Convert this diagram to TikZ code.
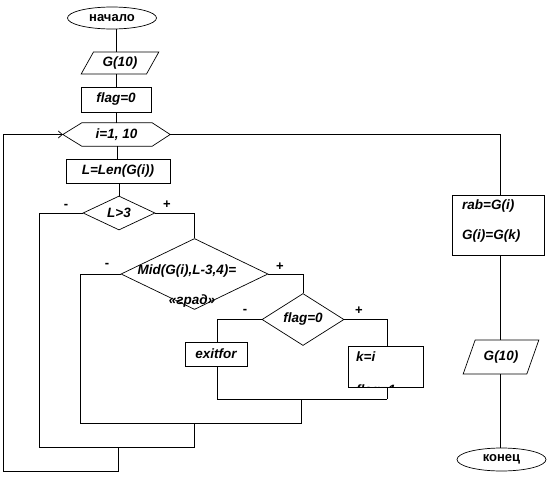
\documentclass[tikz,border=0pt]{standalone}
\usepackage{fontspec}
\setmainfont{Liberation Sans}
\usetikzlibrary{shapes.geometric,calc,arrows.meta}
\begin{document}
\begin{tikzpicture}[x=1pt,y=-1pt,
  every node/.style={font=\fontsize{13.5}{15}\selectfont\bfseries\itshape, inner sep=0pt},
  box/.style={draw, rectangle, line width=0.7pt},
  term/.style={draw, ellipse, line width=0.7pt, font=\fontsize{13}{15}\selectfont\bfseries},
  io/.style={draw, trapezium, trapezium left angle=57.5, trapezium right angle=122.5, trapezium stretches=true, line width=0.7pt},
  cond/.style={draw, diamond, line width=0.7pt},
  sign/.style={font=\fontsize{13}{15}\selectfont\bfseries},
  ln/.style={line width=0.7pt}]
\useasboundingbox (0,0) rectangle (547,482);

% left column
\node[term, minimum width=89, minimum height=22] (start) at (112,18) {начало};
\node[io, minimum width=78, minimum height=22] (in1) at (120,63) {G(10)};
\node[box, minimum width=70, minimum height=25] (flag0) at (116,99.5) {flag=0};
\node[minimum width=107, minimum height=23] (loop) at (116.5,134.5) {i=1, 10};
\draw[ln] (loop.west) -- ($(loop.north west)+(19,0)$) -- ($(loop.north east)+(-18,0)$) -- (loop.east)
  -- ($(loop.south east)+(-18,0)$) -- ($(loop.south west)+(19,0)$) -- cycle;
\node[box, minimum width=104, minimum height=24] (len) at (118,171) {L=Len(G(i))};
\node[cond, minimum width=72, minimum height=34] (c1) at (119,213) {L>3};
\node[cond, minimum width=147, minimum height=71] (c2) at (194.5,274) {};
\node (c2t) at (187,271) {Mid(G(i),L-3,4)=};
\node (c2b) at (192,301) {«град»};
\node[cond, minimum width=82, minimum height=39] (c3) at (303,319.5) {flag=0};
\node[box, minimum width=62, minimum height=24] (exit) at (216,354) {exitfor};
\node[box, minimum width=75, minimum height=41] (kbox) at (385.5,366.5) {};
\node[anchor=west] (kt) at (356,357) {k=i};
\begin{scope}
\clip (kbox.north west) rectangle (kbox.south east);
\node[anchor=west] (ft) at (356,391.5) {flag=1};
\end{scope}

% sign labels
\node[sign] (m1) at (66,206) {-};
\node[sign] (p1) at (167,205) {+};
\node[sign] (m2) at (107,265) {-};
\node[sign] (p2) at (280,267) {+};
\node[sign] (m3) at (245,311) {-};
\node[sign] (p3) at (359,311) {+};

% right column
\node[box, minimum width=92, minimum height=60] (rab) at (498,225) {};
\node[anchor=west] (rt1) at (462,206) {rab=G(i)};
\node[anchor=west] (rt2) at (462,236) {G(i)=G(k)};
\node[io, minimum width=76, minimum height=34] (out) at (501,357) {G(10)};
\node[term, minimum width=89, minimum height=23] (stop) at (501.5,459.5) {конец};

% junction coordinates
\coordinate (j1) at (387,399);
\coordinate (j1l) at (217,399);
\coordinate (j1m) at (301,399);
\coordinate (j2) at (301,423);
\coordinate (j2l) at (80,423);
\coordinate (j2m) at (194,423);
\coordinate (j3) at (194,447);
\coordinate (j3l) at (39,447);
\coordinate (j3m) at (118,447);
\coordinate (j4) at (118,471);
\coordinate (j4l) at (3,471);
\coordinate (back) at (3,134.5);
\coordinate (rtop) at (500,134.5);

% main flow
\draw[ln] (start.south -| 116,0) -- (116,0 |- in1.north);
\draw[ln] (116,0 |- in1.south) -- (116,0 |- flag0.north);
\draw[ln] (flag0.south) -- (116,0 |- loop.north);
\draw[ln] (117,0 |- loop.south) -- (117,0 |- len.north);
\draw[ln] (119,0 |- len.south) -- (c1.north);

% c1 branches
\draw[ln] (c1.east) -| (c2.north);
\draw[ln] (c1.west) -| (j3l);
% c2 branches
\draw[ln] (c2.east) -| (c3.north);
\draw[ln] (c2.west) -| (j2l);
% c3 branches
\draw[ln] (c3.east) -| (kbox.north -| 387,0);
\draw[ln] (c3.west) -| (exit.north -| 217,0);
\draw[ln] (exit.south -| 217,0) -- (j1l) -- (j1);
\draw[ln] (j1) -- (387,0 |- kbox.south);
% merges
\draw[ln] (j1m) -- (j2) -- (j2l);
\draw[ln] (j2m) -- (j3) -- (j3l);
\draw[ln] (j3m) -- (j4) -- (j4l) -- (back);
\draw[ln, -{Straight Barb[length=4pt,width=7pt]}] (back) -- (loop.west);

% exit branch
\draw[ln] (loop.east) -- (rtop) -- (rtop |- rab.north);
\draw[ln] (rab.south -| 500,0) -- (500,0 |- out.north);
\draw[ln] (500,0 |- out.south) -- (500,0 |- stop.north);
\end{tikzpicture}
\end{document}
